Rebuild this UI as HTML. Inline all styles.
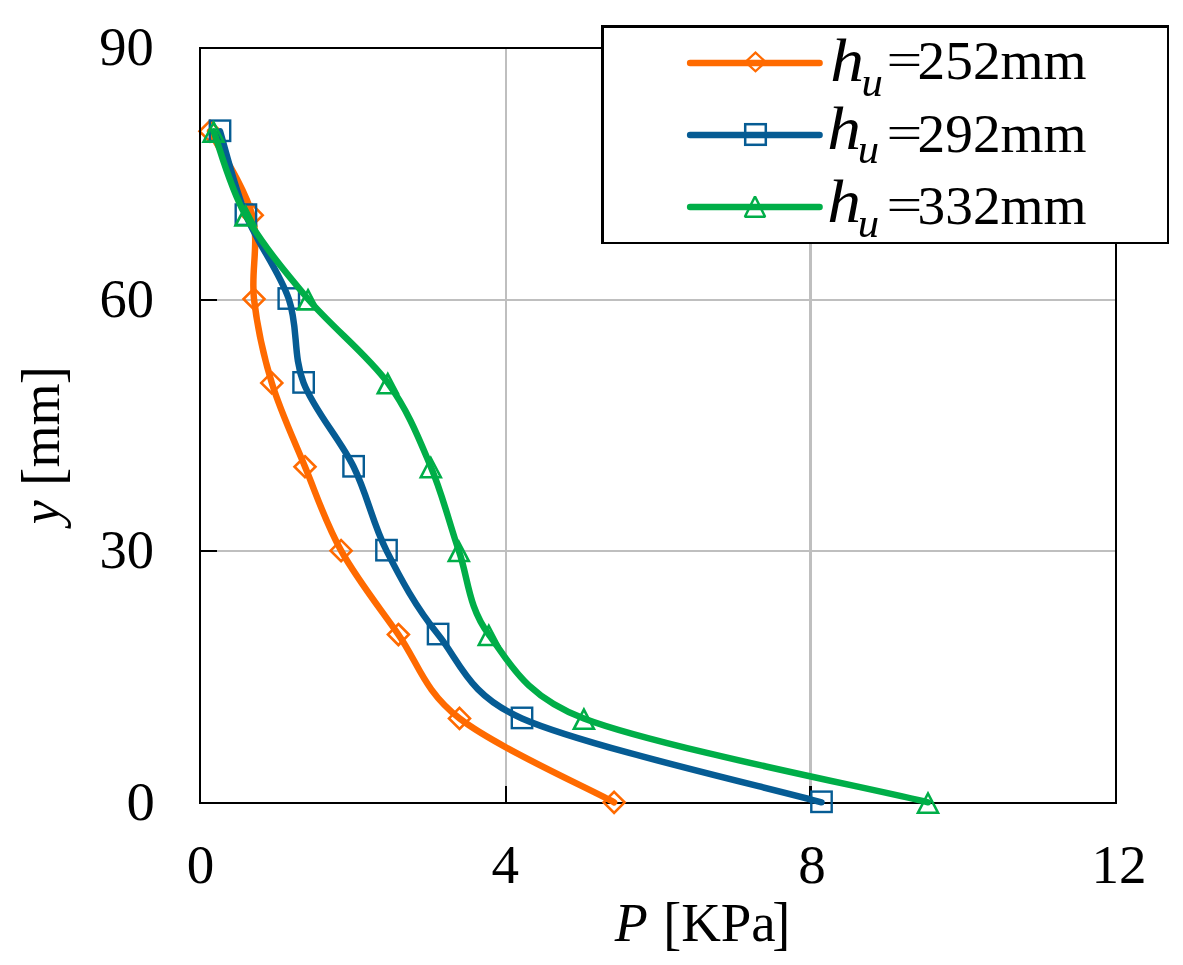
<!DOCTYPE html>
<html><head><meta charset="utf-8"><title>Pressure profile chart</title>
<style>html,body{margin:0;padding:0;background:#fff}body{width:1183px;height:965px;overflow:hidden}</style></head>
<body>
<svg width="1183" height="965" viewBox="0 0 1183 965" style="display:block">
<rect width="1183" height="965" fill="#fff"/>
<rect x="505" y="48" width="2" height="755" fill="#bfbfbf"/>
<rect x="809" y="48" width="3" height="755" fill="#bfbfbf"/>
<rect x="200" y="299" width="916" height="2" fill="#bfbfbf"/>
<rect x="200" y="550" width="916" height="2" fill="#bfbfbf"/>
<rect x="199" y="47" width="918" height="2" fill="#000"/>
<rect x="1115" y="47" width="2" height="757" fill="#000"/>
<rect x="199" y="802" width="918" height="2" fill="#000"/>
<rect x="505" y="786" width="2" height="17" fill="#000"/>
<rect x="809" y="786" width="3" height="17" fill="#000"/>
<rect x="200" y="299" width="17" height="2" fill="#000"/>
<rect x="200" y="550" width="17" height="2" fill="#000"/>
<path d="M210.00,131.26C217.03,145.24 244.87,187.18 252.20,215.14C259.53,243.10 250.73,271.06 254.00,299.02C257.27,326.98 263.30,354.94 271.80,382.90C280.30,410.86 293.45,438.82 305.00,466.78C316.55,494.74 325.53,522.70 341.10,550.66C356.67,578.62 378.67,606.58 398.40,634.54C418.13,662.50 423.55,690.46 459.50,718.42C495.45,746.38 588.33,788.32 614.10,802.30" fill="none" stroke="#FF6A00" stroke-width="6.5" stroke-linecap="round" stroke-linejoin="round"/>
<path d="M210.00,120.76L220.50,131.26L210.00,141.76L199.50,131.26Z" fill="none" stroke="#FF6A00" stroke-width="2.6" stroke-linejoin="miter"/>
<path d="M252.20,204.64L262.70,215.14L252.20,225.64L241.70,215.14Z" fill="none" stroke="#FF6A00" stroke-width="2.6" stroke-linejoin="miter"/>
<path d="M254.00,288.52L264.50,299.02L254.00,309.52L243.50,299.02Z" fill="none" stroke="#FF6A00" stroke-width="2.6" stroke-linejoin="miter"/>
<path d="M271.80,372.40L282.30,382.90L271.80,393.40L261.30,382.90Z" fill="none" stroke="#FF6A00" stroke-width="2.6" stroke-linejoin="miter"/>
<path d="M305.00,456.28L315.50,466.78L305.00,477.28L294.50,466.78Z" fill="none" stroke="#FF6A00" stroke-width="2.6" stroke-linejoin="miter"/>
<path d="M341.10,540.16L351.60,550.66L341.10,561.16L330.60,550.66Z" fill="none" stroke="#FF6A00" stroke-width="2.6" stroke-linejoin="miter"/>
<path d="M398.40,624.04L408.90,634.54L398.40,645.04L387.90,634.54Z" fill="none" stroke="#FF6A00" stroke-width="2.6" stroke-linejoin="miter"/>
<path d="M459.50,707.92L470.00,718.42L459.50,728.92L449.00,718.42Z" fill="none" stroke="#FF6A00" stroke-width="2.6" stroke-linejoin="miter"/>
<path d="M614.10,791.80L624.60,802.30L614.10,812.80L603.60,802.30Z" fill="none" stroke="#FF6A00" stroke-width="2.6" stroke-linejoin="miter"/>
<path d="M220.00,131.26C224.32,145.24 234.43,187.18 245.90,215.14C257.37,243.10 279.18,271.06 288.80,299.02C298.42,326.98 292.80,354.94 303.60,382.90C314.40,410.86 339.78,438.82 353.60,466.78C367.42,494.74 372.42,522.70 386.50,550.66C400.58,578.62 415.52,606.58 438.10,634.54C460.68,662.50 467.66,694.64 522.00,718.42C585.90,746.38 771.58,788.32 821.50,802.30" fill="none" stroke="#065C94" stroke-width="6.5" stroke-linecap="round" stroke-linejoin="round"/>
<rect x="209.80" y="120.56" width="20.40" height="20.40" fill="none" stroke="#065C94" stroke-width="2.4" stroke-linejoin="miter"/>
<rect x="235.70" y="204.44" width="20.40" height="20.40" fill="none" stroke="#065C94" stroke-width="2.4" stroke-linejoin="miter"/>
<rect x="278.60" y="288.32" width="20.40" height="20.40" fill="none" stroke="#065C94" stroke-width="2.4" stroke-linejoin="miter"/>
<rect x="293.40" y="372.20" width="20.40" height="20.40" fill="none" stroke="#065C94" stroke-width="2.4" stroke-linejoin="miter"/>
<rect x="343.40" y="456.08" width="20.40" height="20.40" fill="none" stroke="#065C94" stroke-width="2.4" stroke-linejoin="miter"/>
<rect x="376.30" y="539.96" width="20.40" height="20.40" fill="none" stroke="#065C94" stroke-width="2.4" stroke-linejoin="miter"/>
<rect x="427.90" y="623.84" width="20.40" height="20.40" fill="none" stroke="#065C94" stroke-width="2.4" stroke-linejoin="miter"/>
<rect x="511.80" y="707.72" width="20.40" height="20.40" fill="none" stroke="#065C94" stroke-width="2.4" stroke-linejoin="miter"/>
<rect x="811.30" y="791.60" width="20.40" height="20.40" fill="none" stroke="#065C94" stroke-width="2.4" stroke-linejoin="miter"/>
<path d="M213.60,131.26C218.92,145.24 229.77,187.18 245.50,215.14C261.23,243.10 284.28,271.06 308.00,299.02C331.72,326.98 367.33,354.94 387.80,382.90C408.27,410.86 418.97,438.82 430.80,466.78C442.63,494.74 449.13,522.70 458.80,550.66C468.47,578.62 467.95,606.58 488.80,634.54C509.65,662.50 524.67,695.80 583.90,718.42C657.10,746.38 870.65,788.32 928.00,802.30" fill="none" stroke="#00AE48" stroke-width="6.5" stroke-linecap="round" stroke-linejoin="round"/>
<path d="M213.60,122.46L223.60,141.66L203.60,141.66Z" fill="none" stroke="#00AE48" stroke-width="2.6" stroke-linejoin="miter" stroke-miterlimit="10"/>
<path d="M245.50,206.34L255.50,225.54L235.50,225.54Z" fill="none" stroke="#00AE48" stroke-width="2.6" stroke-linejoin="miter" stroke-miterlimit="10"/>
<path d="M308.00,290.22L318.00,309.42L298.00,309.42Z" fill="none" stroke="#00AE48" stroke-width="2.6" stroke-linejoin="miter" stroke-miterlimit="10"/>
<path d="M387.80,374.10L397.80,393.30L377.80,393.30Z" fill="none" stroke="#00AE48" stroke-width="2.6" stroke-linejoin="miter" stroke-miterlimit="10"/>
<path d="M430.80,457.98L440.80,477.18L420.80,477.18Z" fill="none" stroke="#00AE48" stroke-width="2.6" stroke-linejoin="miter" stroke-miterlimit="10"/>
<path d="M458.80,541.86L468.80,561.06L448.80,561.06Z" fill="none" stroke="#00AE48" stroke-width="2.6" stroke-linejoin="miter" stroke-miterlimit="10"/>
<path d="M488.80,625.74L498.80,644.94L478.80,644.94Z" fill="none" stroke="#00AE48" stroke-width="2.6" stroke-linejoin="miter" stroke-miterlimit="10"/>
<path d="M583.90,709.62L593.90,728.82L573.90,728.82Z" fill="none" stroke="#00AE48" stroke-width="2.6" stroke-linejoin="miter" stroke-miterlimit="10"/>
<path d="M928.00,793.50L938.00,812.70L918.00,812.70Z" fill="none" stroke="#00AE48" stroke-width="2.6" stroke-linejoin="miter" stroke-miterlimit="10"/>
<rect x="199" y="47" width="2" height="757" fill="#000"/>
<text transform="translate(153.8,64.6) scale(1.01,1)" text-anchor="end" font-family="Liberation Serif, serif" font-size="54" fill="#000">90</text>
<text transform="translate(154.0,317.2) scale(1.01,1)" text-anchor="end" font-family="Liberation Serif, serif" font-size="54" fill="#000">60</text>
<text transform="translate(154.0,568.1) scale(1.01,1)" text-anchor="end" font-family="Liberation Serif, serif" font-size="54" fill="#000">30</text>
<text transform="translate(154.9,820.0) scale(1.05,1)" text-anchor="end" font-family="Liberation Serif, serif" font-size="54" fill="#000">0</text>
<text transform="translate(200.5,882.8) scale(1.02,1)" text-anchor="middle" font-family="Liberation Serif, serif" font-size="54" fill="#000">0</text>
<text transform="translate(505.2,882.8) scale(1.02,1)" text-anchor="middle" font-family="Liberation Serif, serif" font-size="54" fill="#000">4</text>
<text transform="translate(812.1,882.8) scale(1.02,1)" text-anchor="middle" font-family="Liberation Serif, serif" font-size="54" fill="#000">8</text>
<text transform="translate(1119.0,882.8) scale(1.02,1)" text-anchor="middle" font-family="Liberation Serif, serif" font-size="54" fill="#000">12</text>
<g transform="translate(614.85,941.2)" font-family="Liberation Serif, serif" font-size="54" fill="#000"><text x="0" y="0" font-style="italic">P</text><text transform="translate(48.49,2.0) scale(1,1.1)">[</text><text transform="translate(66.28,0) scale(1.017,1)">KPa</text><text transform="translate(157.46,2.0) scale(1,1.1)">]</text></g>
<g transform="translate(58.6,524.25) rotate(-90)" font-family="Liberation Serif, serif" font-size="54" fill="#000"><text x="0" y="0" font-style="italic">y</text><text transform="translate(38.48,3.5) scale(1,1.1)">[</text><text transform="translate(56.76,0) scale(1.0,1)">mm</text><text transform="translate(140.08,3.5) scale(1,1.1)">]</text></g>
<rect x="601" y="25" width="568" height="219" fill="#000"/>
<rect x="604" y="28" width="563" height="214" fill="#fff"/>
<line x1="690.1" y1="62.95" x2="819.6" y2="62.95" stroke="#FF6A00" stroke-width="6.4" stroke-linecap="round"/>
<path d="M755.5,52.55L765.55,61.9L755.5,71.25L745.45,61.9Z" fill="none" stroke="#FF6A00" stroke-width="2.3"/>
<text transform="translate(830.30,80.70) scale(1.09,1)" font-family="Liberation Serif, serif" font-style="italic" font-size="62" fill="#000">h</text>
<text transform="translate(861.50,95.70) scale(1.03,1)" font-family="Liberation Serif, serif" font-style="italic" font-size="41.5" fill="#000">u</text>
<text transform="translate(886.60,75.10) scale(1.176,0.85)" font-family="Liberation Serif, serif" font-size="54" fill="#000">=</text>
<text transform="translate(917.60,78.80) scale(1.006,1)" font-family="Liberation Serif, serif" font-size="55" fill="#000">252mm</text>
<line x1="690.1" y1="134.95" x2="819.6" y2="134.95" stroke="#065C94" stroke-width="6.4" stroke-linecap="round"/>
<rect x="745.2" y="124.2" width="20.6" height="20.6" fill="none" stroke="#065C94" stroke-width="2.5"/>
<text transform="translate(827.20,149.05) scale(1.09,1)" font-family="Liberation Serif, serif" font-style="italic" font-size="62" fill="#000">h</text>
<text transform="translate(857.80,162.90) scale(1.03,1)" font-family="Liberation Serif, serif" font-style="italic" font-size="41.5" fill="#000">u</text>
<text transform="translate(886.60,148.10) scale(1.176,0.85)" font-family="Liberation Serif, serif" font-size="54" fill="#000">=</text>
<text transform="translate(917.60,151.80) scale(1.006,1)" font-family="Liberation Serif, serif" font-size="55" fill="#000">292mm</text>
<line x1="690.1" y1="206.95" x2="819.6" y2="206.95" stroke="#00AE48" stroke-width="6.4" stroke-linecap="round"/>
<path d="M755.0,196.5L765.1,216.75L744.9,216.75Z" fill="none" stroke="#00AE48" stroke-width="2.5" stroke-linejoin="bevel"/>
<text transform="translate(827.20,221.90) scale(1.09,1)" font-family="Liberation Serif, serif" font-style="italic" font-size="62" fill="#000">h</text>
<text transform="translate(857.80,236.90) scale(1.03,1)" font-family="Liberation Serif, serif" font-style="italic" font-size="41.5" fill="#000">u</text>
<text transform="translate(886.60,220.10) scale(1.176,0.85)" font-family="Liberation Serif, serif" font-size="54" fill="#000">=</text>
<text transform="translate(917.60,223.80) scale(1.006,1)" font-family="Liberation Serif, serif" font-size="55" fill="#000">332mm</text>
</svg>
</body></html>
